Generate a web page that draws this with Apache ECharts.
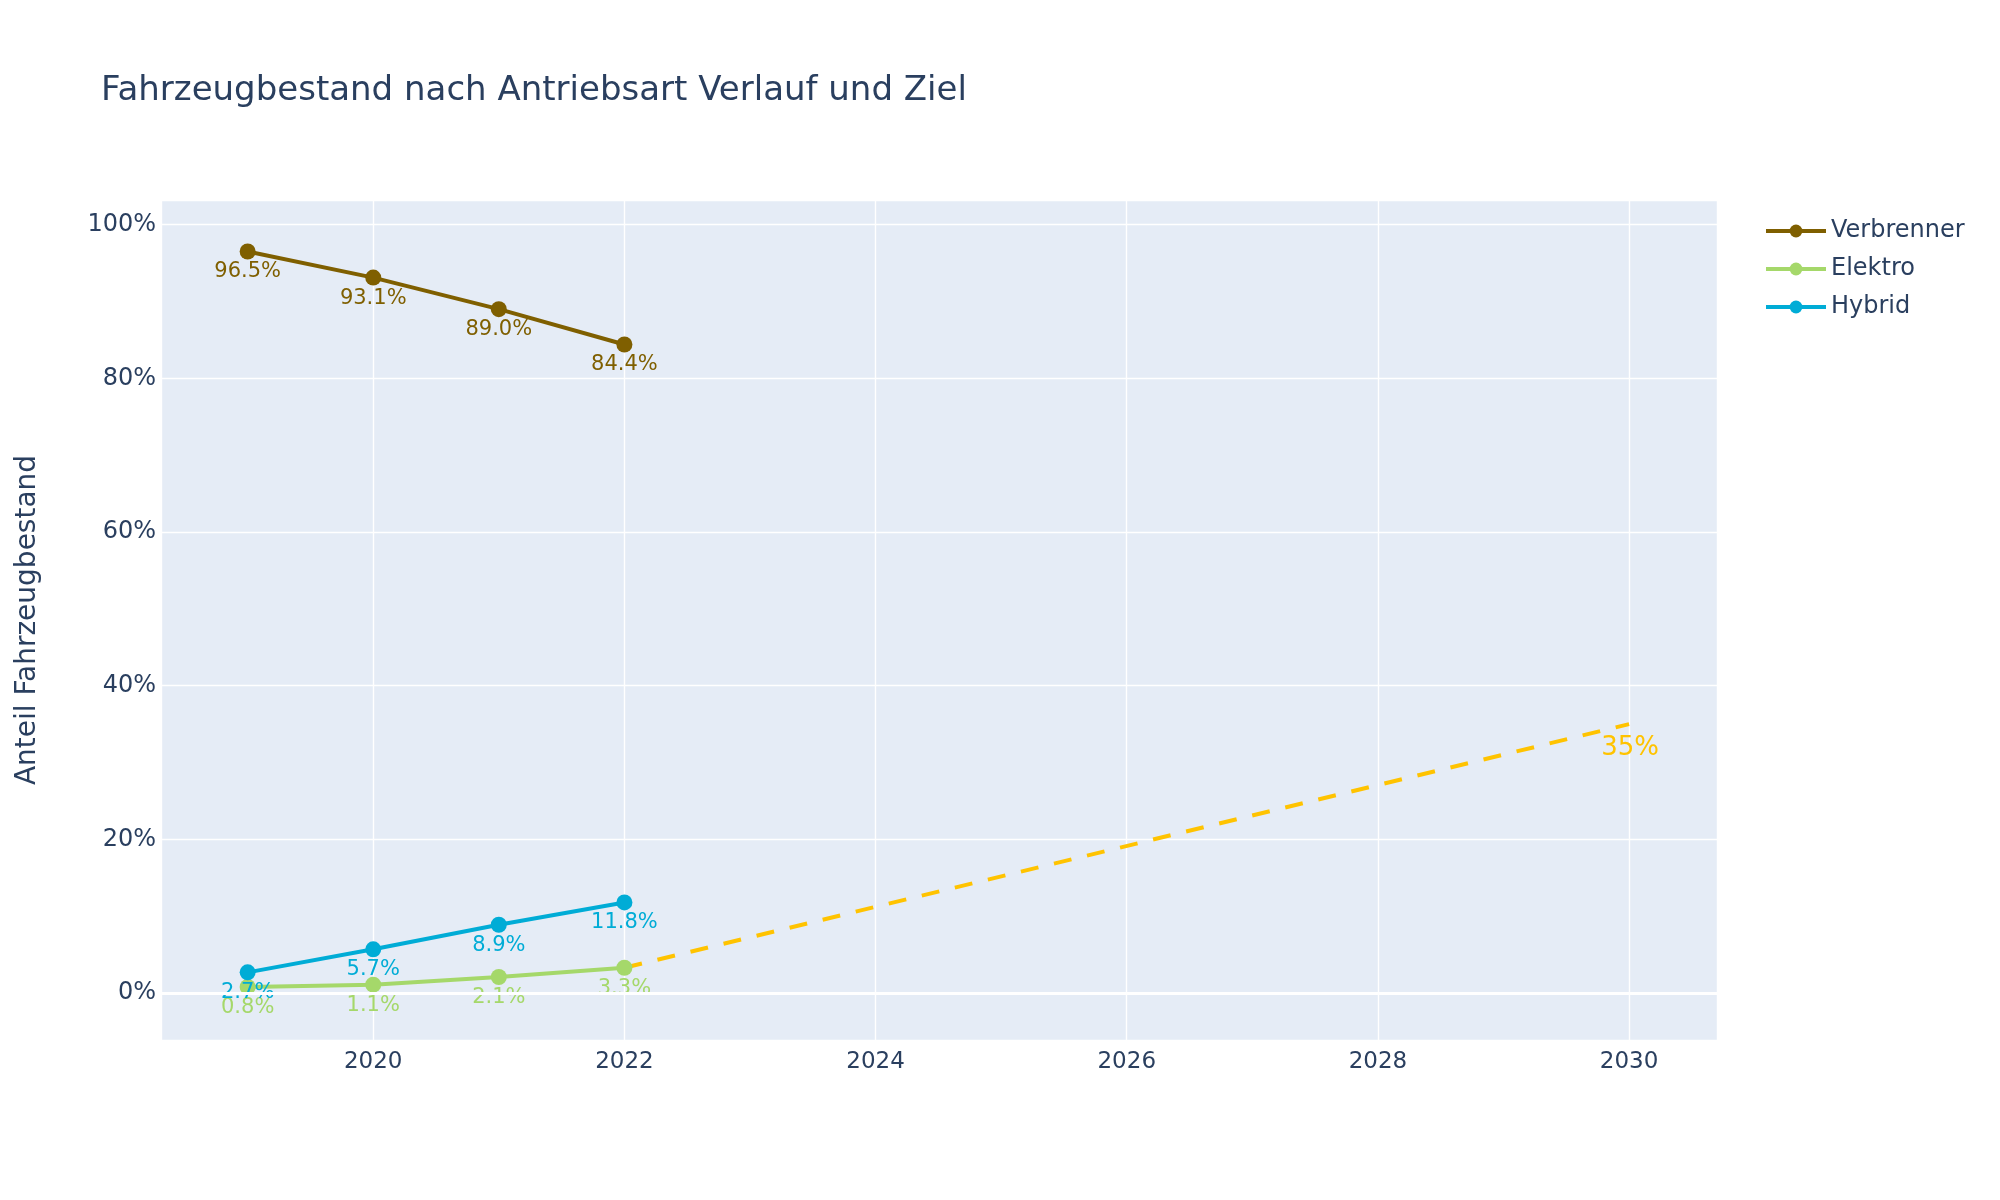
<!DOCTYPE html>
<html>
<head>
<meta charset="utf-8">
<script src="https://cdn.jsdelivr.net/npm/echarts@6/dist/echarts.min.js"></script>
<style>html,body{margin:0;padding:0;background:#fff;}#chart{width:2000px;height:1200px;}</style>
</head>
<body>
<div id="chart"></div>
<script>
const years = [2019, 2020, 2021, 2022];
const verbrenner = [96.5, 93.1, 89.0, 84.4];
const elektro = [0.8, 1.1, 2.1, 3.3];
const hybrid = [2.7, 5.7, 8.9, 11.8];
const targetYears = [2022, 2030];
const targetValues = [3.3, 35];
const targetLabel = '35%';

const FONT = 'DejaVu Sans';
const TXT = '#2a3f5f';
const C_V = '#7f5f00', C_E = '#a5d86a', C_H = '#00acd6', C_T = '#ffc300';

function pts(xs, ys) { return xs.map((x, i) => [x, ys[i]]); }

const chart = echarts.init(document.getElementById('chart'), null, {renderer: 'canvas'});
function lineSeries(name, color, ys) {
  return {
    name: name, type: 'line', data: pts(years, ys),
    symbol: 'circle', symbolSize: 16,
    lineStyle: {color: color, width: 4},
    itemStyle: {color: color},
    label: {show: true, position: 'bottom', distance: 2, color: color, fontFamily: FONT, fontSize: 21,
            formatter: p => p.value[1].toFixed(1) + '%'},
    emphasis: {disabled: true},
    animation: false
  };
}
const option = {
  animation: false,
  backgroundColor: '#ffffff',
  title: {
    text: 'Fahrzeugbestand nach Antriebsart Verlauf und Ziel',
    left: 96, top: 69,
    textStyle: {color: TXT, fontFamily: FONT, fontSize: 34, fontWeight: 'normal'}
  },
  legend: {
    orient: 'vertical', left: 1759, top: 214,
    itemWidth: 60, itemHeight: 16, itemGap: 14,
    data: ['Verbrenner', 'Elektro', 'Hybrid'],
    lineStyle: {width: 4},
    textStyle: {color: TXT, fontFamily: FONT, fontSize: 24, padding: [0, 0, 0, 0]}
  },
  grid: {
    left: 161, right: 283, top: 200, bottom: 160,
    show: true, backgroundColor: '#E5ECF6', borderWidth: 0, containLabel: false
  },
  xAxis: {
    type: 'value', min: 2018.31, max: 2030.7, splitNumber: 5,
    axisLine: {show: false}, axisTick: {show: false},
    axisLabel: {color: TXT, fontFamily: FONT, fontSize: 23, margin: 11, showMinLabel: false, showMaxLabel: false,
                formatter: v => String(Math.round(v))},
    splitLine: {show: true, lineStyle: {color: '#ffffff', width: 1.4}}
  },
  yAxis: {
    type: 'value', min: -6.1, max: 103.2, splitNumber: 5,
    name: 'Anteil Fahrzeugbestand', nameLocation: 'middle', nameRotate: 90, nameGap: 119,
    nameTextStyle: {color: TXT, fontFamily: FONT, fontSize: 28},
    axisLine: {show: false}, axisTick: {show: false},
    axisLabel: {color: TXT, fontFamily: FONT, fontSize: 24, margin: 5, showMinLabel: false, showMaxLabel: false,
                formatter: v => Math.round(v) + '%'},
    splitLine: {show: true, lineStyle: {color: '#ffffff', width: 1.4}}
  },
  series: [
    Object.assign(lineSeries('Verbrenner', C_V, verbrenner), {
      markLine: {silent: true, symbol: 'none', label: {show: false},
                 lineStyle: {color: '#ffffff', width: 3, type: 'solid'}, data: [{yAxis: 0}], animation: false}
    }),
    lineSeries('Elektro', C_E, elektro),
    lineSeries('Hybrid', C_H, hybrid),
    {
      name: 'Ziel', type: 'line', data: pts(targetYears, targetValues),
      symbol: 'none', showSymbol: false,
      lineStyle: {color: C_T, width: 4, type: [18, 16]},
      itemStyle: {color: C_T},
      label: {show: false},
      markPoint: {
        symbol: 'circle', symbolSize: 0, silent: true,
        data: [{coord: [targetYears[1], targetValues[1]], value: targetLabel}],
        label: {show: true, position: 'bottom', distance: 11, offset: [1, 0], color: C_T, fontFamily: FONT, fontSize: 26,
                formatter: targetLabel}
      },
      emphasis: {disabled: true}
    }
  ]
};
chart.setOption(option);
</script>
</body>
</html>
